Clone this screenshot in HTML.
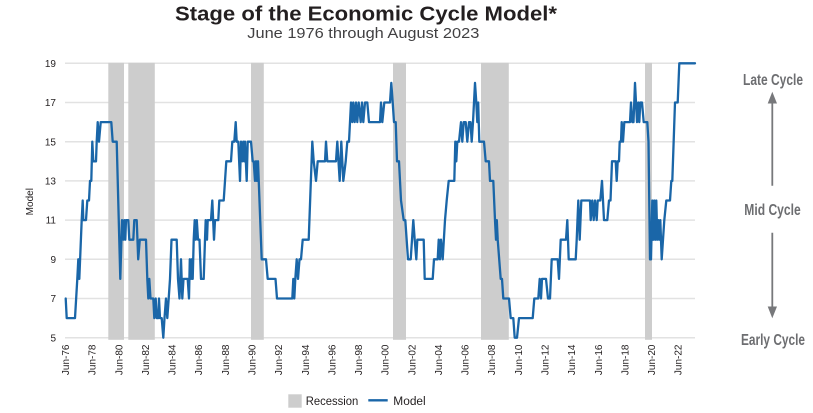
<!DOCTYPE html>
<html>
<head>
<meta charset="utf-8">
<style>
  html, body { margin: 0; padding: 0; background: #ffffff; }
  body { width: 813px; height: 413px; overflow: hidden; }
  svg { display: block; }
  text { font-family: "Liberation Sans", "DejaVu Sans", sans-serif; }
</style>
</head>
<body>
<svg width="813" height="413" viewBox="0 0 813 413" xmlns="http://www.w3.org/2000/svg">
  <rect width="813" height="413" fill="#ffffff"/>

  <!-- Title -->
  <text x="175" y="20.7" font-size="20.5" font-weight="bold" fill="#231f20" textLength="382" lengthAdjust="spacingAndGlyphs">Stage of the Economic Cycle Model*</text>
  <text x="247.3" y="37.8" font-size="14.5" fill="#414042" textLength="232" lengthAdjust="spacingAndGlyphs">June 1976 through August 2023</text>

  <!-- Gridlines -->
  <g stroke="#e2e2e2" stroke-width="1.5">
    <line x1="65" y1="63.3" x2="695" y2="63.3"/>
    <line x1="65" y1="102.5" x2="695" y2="102.5"/>
    <line x1="65" y1="141.7" x2="695" y2="141.7"/>
    <line x1="65" y1="180.9" x2="695" y2="180.9"/>
    <line x1="65" y1="220.1" x2="695" y2="220.1"/>
    <line x1="65" y1="259.3" x2="695" y2="259.3"/>
    <line x1="65" y1="298.5" x2="695" y2="298.5"/>
    <line x1="65" y1="337.7" x2="695" y2="337.7"/>
  </g>

  <!-- Recession shading -->
  <g fill="#cdcdcd">
    <rect x="108.3" y="62.8" width="15.7" height="277"/>
    <rect x="128.3" y="62.8" width="26.5" height="277"/>
    <rect x="251" y="62.8" width="12.8" height="277"/>
    <rect x="393" y="62.8" width="13" height="277"/>
    <rect x="481" y="62.8" width="27.8" height="277"/>
    <rect x="645" y="62.8" width="7" height="277"/>
  </g>

  <!-- Y tick labels -->
  <g font-size="10" fill="#231f20" text-anchor="end">
    <text x="56" y="66.9">19</text>
    <text x="56" y="106.1">17</text>
    <text x="56" y="145.3">15</text>
    <text x="56" y="184.5">13</text>
    <text x="56" y="223.7">11</text>
    <text x="56" y="262.9">9</text>
    <text x="56" y="302.1">7</text>
    <text x="56" y="341.3">5</text>
  </g>
  <text transform="translate(33,201.7) rotate(-90)" font-size="10" fill="#231f20" text-anchor="middle">Model</text>

  <!-- X tick labels -->
  <g font-size="10" fill="#231f20" text-anchor="end">
    <text transform="translate(69,344.5) rotate(-90)">Jun-76</text>
    <text transform="translate(95.6,344.5) rotate(-90)">Jun-78</text>
    <text transform="translate(122.3,344.5) rotate(-90)">Jun-80</text>
    <text transform="translate(148.9,344.5) rotate(-90)">Jun-82</text>
    <text transform="translate(175.6,344.5) rotate(-90)">Jun-84</text>
    <text transform="translate(202.2,344.5) rotate(-90)">Jun-86</text>
    <text transform="translate(228.8,344.5) rotate(-90)">Jun-88</text>
    <text transform="translate(255.5,344.5) rotate(-90)">Jun-90</text>
    <text transform="translate(282.1,344.5) rotate(-90)">Jun-92</text>
    <text transform="translate(308.8,344.5) rotate(-90)">Jun-94</text>
    <text transform="translate(335.4,344.5) rotate(-90)">Jun-96</text>
    <text transform="translate(362,344.5) rotate(-90)">Jun-98</text>
    <text transform="translate(388.7,344.5) rotate(-90)">Jun-00</text>
    <text transform="translate(415.3,344.5) rotate(-90)">Jun-02</text>
    <text transform="translate(442,344.5) rotate(-90)">Jun-04</text>
    <text transform="translate(468.6,344.5) rotate(-90)">Jun-06</text>
    <text transform="translate(495.2,344.5) rotate(-90)">Jun-08</text>
    <text transform="translate(521.9,344.5) rotate(-90)">Jun-10</text>
    <text transform="translate(548.5,344.5) rotate(-90)">Jun-12</text>
    <text transform="translate(575.2,344.5) rotate(-90)">Jun-14</text>
    <text transform="translate(601.8,344.5) rotate(-90)">Jun-16</text>
    <text transform="translate(628.4,344.5) rotate(-90)">Jun-18</text>
    <text transform="translate(655.1,344.5) rotate(-90)">Jun-20</text>
    <text transform="translate(681.7,344.5) rotate(-90)">Jun-22</text>
  </g>

  <!-- Model line -->
  <polyline fill="none" stroke="#1a66a8" stroke-width="2.3" stroke-linejoin="round" stroke-linecap="round" points="
65.7,298.5 66.7,318.1 75,318.1 77.3,278.9 78.3,259.3 79.3,278.9 81.7,220.1 82.7,200.5 83.3,220.1 86,220.1 87.3,200.5 89,200.5 90,180.9 91.3,180.9 92.3,141.7 93.3,161.3 96,161.3 96.7,141.7 97.7,122.1 99,141.7 100.7,122.1 111.3,122.1 112.7,141.7 116.7,141.7 120.3,278.9 122,220.1 123.3,239.7 124.3,220.1 125.3,239.7 126,220.1 128.3,220.1 129.3,239.7 133.3,239.7 134.3,220.1 136.7,220.1 138.2,259.3 139.8,239.7 146,239.7 147.3,278.9 148.3,298.5 149.3,278.9 150.5,298.5 153.3,298.5 154.3,318.1 155.7,298.5 156.7,318.1 158.3,318.1 159,298.5 160,318.1 161.7,318.1 163.3,337.7 164.5,318.1 166,298.5 167.3,318.1 168.7,298.5 170,278.9 171.5,239.7 176.7,239.7 178,278.9 179.5,298.5 181,259.3 182.3,298.5 183.5,278.9 187.7,278.9 189,298.5 189.8,259.3 191,278.9 191.8,259.3 192.7,278.9 193.7,239.7 194.7,220.1 195.8,239.7 196.8,220.1 198,239.7 199.5,239.7 201,278.9 203.7,278.9 205,239.7 205.7,220.1 207,239.7 207.7,220.1 211,220.1 212.3,200.5 214,239.7 215,220.1 218.3,220.1 219.3,200.5 223.7,200.5 225,180.9 226.3,161.3 231,161.3 232.3,141.7 234.3,141.7 235.7,122.1 236.7,141.7 238.3,141.7 240,180.9 241,141.7 242.3,161.3 243.3,141.7 244.3,161.3 245,141.7 246.7,180.9 247.7,141.7 251,141.7 252.7,161.3 253.7,161.3 255,180.9 256,161.3 257,180.9 258,161.3 261.7,259.3 266,259.3 267.7,278.9 275.5,278.9 277,298.5 292.3,298.5 293.3,278.9 294.3,298.5 295.3,278.9 296.7,259.3 298,278.9 299.5,259.3 301,259.3 302.7,239.7 308.7,239.7 312.3,141.7 313.7,161.3 316,180.9 317.7,161.3 325,161.3 326,141.7 327.3,161.3 336,161.3 337.3,141.7 339.7,180.9 341.3,141.7 343.3,180.9 345.7,161.3 347.3,141.7 349,141.7 351,102.5 352.3,122.1 353.3,102.5 354.7,122.1 356,102.5 357.3,122.1 358.7,102.5 360.7,122.1 362,102.5 363.3,122.1 365,102.5 367.3,102.5 369,122.1 380,122.1 381,102.5 382.3,122.1 384.3,102.5 390,102.5 391.3,82.9 392.7,102.5 394,122.1 395.7,122.1 397,161.3 399,161.3 401,200.5 403.7,220.1 405.3,220.1 408,259.3 410.7,259.3 413.3,220.1 414.7,239.7 416.3,259.3 417.3,239.7 423.7,239.7 424.7,278.9 432.7,278.9 434,259.3 437.7,259.3 438.7,239.7 440,259.3 441,239.7 442.7,259.3 445,220.1 446.7,200.5 448.7,180.9 454.3,180.9 455.3,141.7 456.3,161.3 457.3,141.7 459,141.7 461,122.1 462.3,141.7 463.7,122.1 465.7,122.1 467.3,141.7 469,122.1 470.5,122.1 471.7,141.7 473,122.1 475,82.9 476.3,102.5 477.3,122.1 478.2,102.5 479.3,141.7 484,141.7 485.7,161.3 489,161.3 490,180.9 493.3,180.9 495,220.1 496,239.7 496.8,220.1 497.7,239.7 500.7,278.9 502,278.9 503.3,298.5 509,298.5 510.7,318.1 513.3,318.1 514.7,337.7 517,337.7 519,318.1 532.7,318.1 534.3,298.5 538.3,298.5 539.7,278.9 541,298.5 542,278.9 546,278.9 548,298.5 550,298.5 551.7,259.3 557.7,259.3 559,278.9 560.7,239.7 566,239.7 567.3,220.1 568.7,259.3 575.7,259.3 576.7,239.7 578.3,200.5 579.7,239.7 581.3,200.5 590,200.5 590.7,220.1 592.3,200.5 593.7,220.1 595,200.5 596.7,220.1 597.7,200.5 600.3,200.5 602,180.9 604,220.1 607.3,220.1 609,200.5 610.5,200.5 612,161.3 615.7,161.3 616.7,180.9 617.7,161.3 619,161.3 619.7,141.7 621,141.7 621.7,122.1 623,141.7 624.3,122.1 630,122.1 631,102.5 632.3,122.1 633.5,122.1 635,82.9 637,122.1 638.3,102.5 639.3,122.1 640.3,102.5 642,102.5 643.7,122.1 647.3,122.1 648.5,141.7 650,259.3 651,259.3 652.3,200.5 653.3,239.7 654.3,200.5 655.3,239.7 656.3,200.5 657.3,239.7 658.3,220.1 659.3,239.7 660.3,220.1 661.7,259.3 663,239.7 664.3,220.1 666.3,200.5 670,200.5 671.3,180.9 672.3,180.9 675,102.5 677.7,102.5 679.3,63.3 695,63.3"/>

  <!-- Right annotations -->
  <g font-size="16" font-weight="bold" fill="#6d6e71">
    <text x="743" y="85" textLength="60" lengthAdjust="spacingAndGlyphs">Late Cycle</text>
    <text x="744.3" y="215" textLength="56.4" lengthAdjust="spacingAndGlyphs">Mid Cycle</text>
    <text x="741" y="345" textLength="64" lengthAdjust="spacingAndGlyphs">Early Cycle</text>
  </g>
  <g stroke="#77787b" stroke-width="1.8" fill="#77787b">
    <line x1="772.3" y1="185.7" x2="772.3" y2="100"/>
    <polygon stroke="none" points="772.3,91.7 767.7,103.5 777,103.5"/>
    <line x1="772.3" y1="232.7" x2="772.3" y2="308"/>
    <polygon stroke="none" points="772.3,318.3 767.7,306.5 777,306.5"/>
  </g>

  <!-- Legend -->
  <rect x="288.3" y="394.3" width="13.4" height="13.4" fill="#cdcdcd"/>
  <text x="305.7" y="404.8" font-size="11.5" fill="#231f20" textLength="52.6" lengthAdjust="spacingAndGlyphs">Recession</text>
  <line x1="368.3" y1="400.3" x2="387.7" y2="400.3" stroke="#1a66a8" stroke-width="2.3"/>
  <text x="393.3" y="404.8" font-size="11.5" fill="#231f20" textLength="32.4" lengthAdjust="spacingAndGlyphs">Model</text>
</svg>
</body>
</html>
